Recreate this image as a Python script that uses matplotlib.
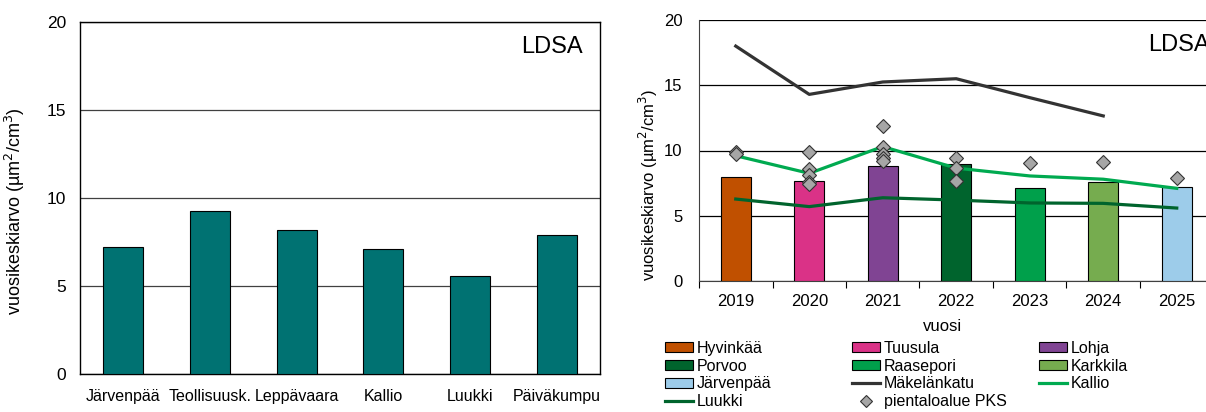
import matplotlib.pyplot as plt
from matplotlib.lines import Line2D
from matplotlib.patches import Patch

plt.rcParams['font.family'] = ['Liberation Sans', 'DejaVu Sans']

# vasen kuva: asemien vuosikeskiarvot
asemat = ['Järvenpää', 'Teollisuusk.', 'Leppävaara', 'Kallio', 'Luukki', 'Päiväkumpu']
asema_arvot = [7.22, 9.27, 8.17, 7.09, 5.57, 7.89]

# oikea kuva: vuodet ja kunnat
vuodet = ['2019', '2020', '2021', '2022', '2023', '2024', '2025']
kunnat = ['Hyvinkää', 'Tuusula', 'Lohja', 'Porvoo', 'Raasepori', 'Karkkila', 'Järvenpää']
kunta_arvot = [8.0, 7.7, 8.8, 9.0, 7.15, 7.55, 7.23]
kunta_varit = ['#C05000', '#DA3287', '#804493', '#00642D', '#00A04B', '#76AC4F', '#9DCCEA']

makelankatu = [18.0, 14.3, 15.25, 15.5, 14.05, 12.65]
kallio = [9.6, 8.25, 10.3, 8.65, 8.05, 7.8, 7.1]
luukki = [6.28, 5.7, 6.38, 6.2, 5.98, 5.95, 5.59]

pks = [
    [9.85, 9.7],
    [9.9, 8.6, 8.1, 7.6, 7.45],
    [11.9, 10.3, 9.7, 9.4, 9.2],
    [9.45, 8.68, 7.69],
    [9.02],
    [9.1],
    [7.92],
]

W, H = 1206, 412
fig = plt.figure(figsize=(W / 100, H / 100), dpi=100)

ylab = 'vuosikeskiarvo (µm$^2$/cm$^3$)'

# ---- vasen
ax1 = fig.add_axes([80 / W, 1 - 374 / H, 520 / W, 352 / H])
x1 = range(len(asemat))
ax1.bar(x1, asema_arvot, width=0.46, color='#007272', edgecolor='black', linewidth=0.8, zorder=3)
ax1.set_xlim(-0.5, len(asemat) - 0.5)
ax1.set_ylim(0, 20)
ax1.set_yticks([0, 5, 10, 15, 20])
ax1.set_xticks(list(x1))
ax1.set_xticklabels(asemat, fontsize=11.5)
ax1.tick_params(axis='y', length=0, pad=10, labelsize=12.5)
ax1.tick_params(axis='x', length=0, pad=11)
ax1.grid(axis='y', color='#404040', linewidth=0.9, zorder=0)
for s in ax1.spines.values():
    s.set_color('black')
    s.set_linewidth(1)
ax1.set_ylabel(ylab, fontsize=13)
ax1.yaxis.set_label_coords(-0.102, 0.463)
ax1.text(0.967, 0.929, 'LDSA', transform=ax1.transAxes, ha='right', va='center', fontsize=17)

# ---- oikea
ax2 = fig.add_axes([699 / W, 1 - 281 / H, 514.5 / W, 261 / H])
x2 = list(range(len(vuodet)))
ax2.bar(x2, kunta_arvot, width=0.41, color=kunta_varit, edgecolor='black', linewidth=0.8, zorder=3)
ax2.plot(x2[:len(makelankatu)], makelankatu, color='#333333', linewidth=2.3, zorder=4)
ax2.plot(x2, kallio, color='#00AA50', linewidth=2.3, zorder=4)
ax2.plot(x2, luukki, color='#00642D', linewidth=2.3, zorder=4)
for i, arvot in enumerate(pks):
    ax2.plot([i] * len(arvot), arvot, linestyle='none', marker='D', markersize=7.5,
             markerfacecolor='#A6A6A6', markeredgecolor='#333333', markeredgewidth=0.8, zorder=5)
ax2.set_xlim(-0.5, len(vuodet) - 0.5)
ax2.set_ylim(0, 20)
ax2.set_yticks([0, 5, 10, 15, 20])
ax2.set_xticks(x2)
ax2.set_xticklabels(vuodet)
ax2.set_xticks([i - 0.5 for i in range(len(vuodet) + 1)], minor=True)
ax2.tick_params(axis='x', which='major', length=0, pad=9, labelsize=12)
ax2.tick_params(axis='x', which='minor', length=5, width=0.8, direction='out')
ax2.tick_params(axis='y', length=0, pad=12, labelsize=12)
ax2.grid(axis='y', color='black', linewidth=0.9, zorder=0)
ax2.spines['top'].set_visible(False)
ax2.spines['right'].set_visible(False)
ax2.spines['left'].set_color('#404040')
ax2.spines['bottom'].set_color('#404040')
ax2.set_ylabel(ylab, fontsize=12)
ax2.yaxis.set_label_coords(-0.076, 0.368)
ax2.set_xlabel('vuosi', fontsize=12)
ax2.xaxis.set_label_coords(0.474, -0.146)
ax2.text(0.873, 0.904, 'LDSA', transform=ax2.transAxes, ha='left', va='center', fontsize=17)

# ---- selitteet kolmessa sarakkeessa
def laatikko(c):
    return Patch(facecolor=c, edgecolor='black', linewidth=0.8)

def viiva(c):
    return Line2D([], [], color=c, linewidth=2.3)

timantti = Line2D([], [], linestyle='none', marker='D', markersize=6,
                  markerfacecolor='#A6A6A6', markeredgecolor='#333333', markeredgewidth=0.8)

sarakkeet = [
    ([laatikko(kunta_varit[0]), laatikko(kunta_varit[3]), laatikko(kunta_varit[6]), viiva('#00642D')],
     ['Hyvinkää', 'Porvoo', 'Järvenpää', 'Luukki'], 665),
    ([laatikko(kunta_varit[1]), laatikko(kunta_varit[4]), viiva('#333333'), timantti],
     ['Tuusula', 'Raasepori', 'Mäkelänkatu', 'pientaloalue PKS'], 852),
    ([laatikko(kunta_varit[2]), laatikko(kunta_varit[5]), viiva('#00AA50')],
     ['Lohja', 'Karkkila', 'Kallio'], 1039),
]
for kahvat, nimet, xp in sarakkeet:
    fig.legend(kahvat, nimet, loc='upper left', bbox_to_anchor=(xp / W, 1 - 341 / H),
               frameon=False, fontsize=11.5, handlelength=1.75, handleheight=0.6,
               handletextpad=0.25, labelspacing=0.17, borderpad=0, borderaxespad=0)

fig.savefig('out.png', dpi=100)
